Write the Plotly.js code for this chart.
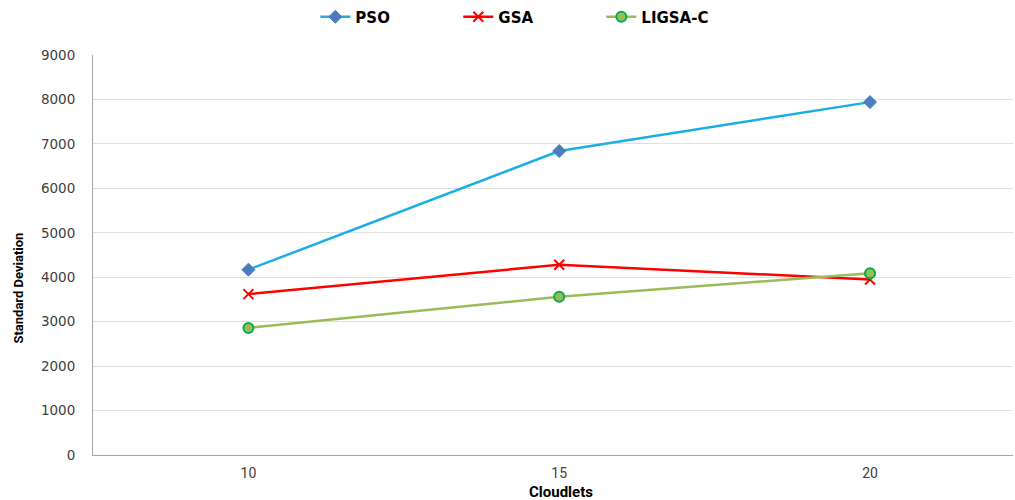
<!DOCTYPE html>
<html>
<head>
<meta charset="utf-8">
<script src="https://cdn.plot.ly/plotly-3.0.1.min.js"></script>
<style>html,body{margin:0;padding:0;background:#fff;}#chart{width:1015px;height:500px;}</style>
</head>
<body>
<div id="chart"></div>
<script>
// Standard deviation of load for each scheduling algorithm by cloudlet count
var cloudlets = ['10', '15', '20'];
var pso = [4170, 6840, 7940];
var gsa = [3620, 4280, 3950];
var ligsaC = [2860, 3560, 4090];
var yTicks = [0, 1000, 2000, 3000, 4000, 5000, 6000, 7000, 8000, 9000];

var traces = [
  {
    x: cloudlets, y: pso, name: 'PSO', type: 'scatter', mode: 'lines+markers',
    line: {color: '#1cade4', width: 2.5},
    marker: {symbol: 'diamond', size: 10, color: '#4a7ebb', line: {color: '#4a7ebb', width: 1}}
  },
  {
    x: cloudlets, y: gsa, name: 'GSA', type: 'scatter', mode: 'lines+markers',
    line: {color: '#ff0000', width: 2.5},
    marker: {symbol: 'x-thin', size: 10, color: '#ff0000', line: {color: '#ff0000', width: 2}}
  },
  {
    x: cloudlets, y: ligsaC, name: 'LIGSA-C', type: 'scatter', mode: 'lines+markers',
    line: {color: '#9bbb59', width: 2.5},
    marker: {symbol: 'circle', size: 10, color: '#9bbb59', line: {color: '#00b050', width: 2}}
  }
];

var titleFont = {family: 'Liberation Sans Narrow, Roboto, sans-serif', color: '#000000', weight: 'bold'};

var layout = {
  width: 1015, height: 500,
  margin: {l: 93, r: 2, t: 55, b: 45},
  paper_bgcolor: '#ffffff', plot_bgcolor: '#ffffff',
  showlegend: true,
  legend: {
    orientation: 'h', x: 0.522, xanchor: 'center', y: 0.966, yanchor: 'middle',
    yref: 'container', xref: 'container',
    font: {family: 'DejaVu Sans, Verdana, sans-serif', size: 15, color: '#000000', weight: 'bold'},
    entrywidth: 98, entrywidthmode: 'pixels', traceorder: 'normal'
  },
  xaxis: {
    type: 'category', range: [-0.5, 2.46],
    showline: true, linecolor: '#a6a6a6', linewidth: 1,
    showgrid: false, zeroline: false, ticks: '',
    tickfont: {family: 'Liberation Sans Narrow, Roboto, sans-serif', size: 14, color: '#404040'},
    ticklabelstandoff: 5
  },
  yaxis: {
    range: [0, 9000], tickvals: yTicks,
    showline: true, linecolor: '#a6a6a6', linewidth: 1,
    showgrid: true, gridcolor: '#e0e0e0', gridwidth: 1, zeroline: false, ticks: '',
    tickfont: {family: 'DejaVu Sans, Verdana, sans-serif', size: 13.5, color: '#404040'},
    ticklabelstandoff: 14
  },
  annotations: [
    {
      text: 'Standard Deviation', textangle: -90, showarrow: false,
      xref: 'paper', yref: 'paper', x: -0.082, y: 0.4175, xanchor: 'center', yanchor: 'middle',
      font: Object.assign({size: 13}, titleFont)
    },
    {
      text: 'Cloudlets', showarrow: false,
      xref: 'paper', yref: 'paper', x: 0.509, y: -0.0925, xanchor: 'center', yanchor: 'middle',
      font: Object.assign({size: 15}, titleFont)
    }
  ]
};

Plotly.newPlot('chart', traces, layout, {displayModeBar: false, staticPlot: true});
</script>
</body>
</html>
